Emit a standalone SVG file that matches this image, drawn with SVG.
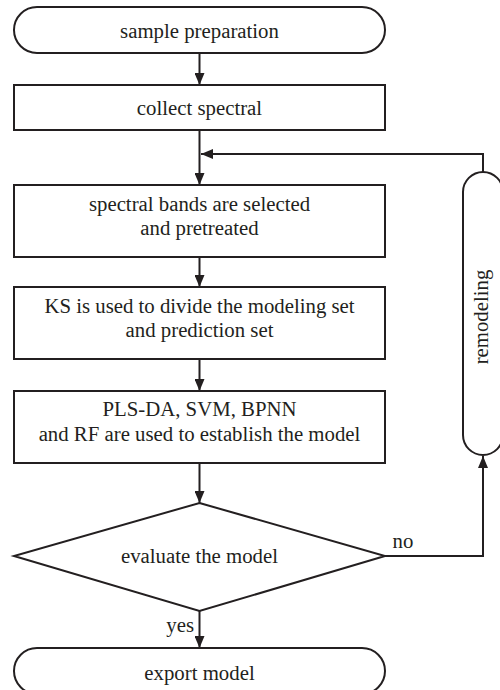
<svg xmlns="http://www.w3.org/2000/svg" width="500" height="690" viewBox="0 0 500 690" font-family="Liberation Serif, Times New Roman, serif" font-size="20.8">
<style>
.s{fill:#fff;stroke:#231f20;stroke-width:2}
.c{fill:none;stroke:#231f20;stroke-width:2}
text{fill:#231f20;text-anchor:middle}
</style>
<defs>
<marker id="ah" viewBox="0 0 12 10" refX="12" refY="5" markerWidth="12" markerHeight="10" markerUnits="userSpaceOnUse" orient="auto">
<path d="M0,0 L12,5 L0,10 Z" fill="#231f20"/>
</marker>
</defs>
<rect width="500" height="690" fill="#fff"/>
<g id="connectors">
<line class="c" x1="199.5" y1="53" x2="199.5" y2="85" marker-end="url(#ah)"/>
<line class="c" x1="199.5" y1="130" x2="199.5" y2="185" marker-end="url(#ah)"/>
<polyline class="c" points="483,172 483,154 201,154" marker-end="url(#ah)"/>
<line class="c" x1="199.5" y1="257" x2="199.5" y2="287" marker-end="url(#ah)"/>
<line class="c" x1="199.5" y1="359" x2="199.5" y2="391" marker-end="url(#ah)"/>
<line class="c" x1="199.5" y1="463" x2="199.5" y2="503" marker-end="url(#ah)"/>
<polyline class="c" points="385,556 483,556 483,456" marker-end="url(#ah)"/>
<line class="c" x1="199.5" y1="611" x2="199.5" y2="648" marker-end="url(#ah)"/>
<text x="403" y="548">no</text>
<text x="194" y="632" text-anchor="end" style="text-anchor:end">yes</text>
</g>
<g id="start">
<rect class="s" x="14" y="7" width="371" height="46" rx="23"/>
<text x="199.5" y="37.5">sample preparation</text>
</g>
<g id="collect">
<rect class="s" x="14" y="85" width="371" height="45"/>
<text x="199.5" y="115">collect spectral</text>
</g>
<g id="bands">
<rect class="s" x="14" y="185" width="371" height="72"/>
<text x="199.5" y="211">spectral bands are selected</text>
<text x="199.5" y="235">and pretreated</text>
</g>
<g id="ks">
<rect class="s" x="14" y="287" width="371" height="72"/>
<text x="199.5" y="313">KS is used to divide the modeling set</text>
<text x="199.5" y="337">and prediction set</text>
</g>
<g id="models">
<rect class="s" x="14" y="391" width="371" height="72"/>
<text x="199.5" y="416">PLS-DA, SVM, BPNN</text>
<text x="199.5" y="441">and RF are used to establish the model</text>
</g>
<g id="evaluate">
<polygon class="s" points="199.5,503 385,556 199.5,611 14,556"/>
<text x="199.5" y="563">evaluate the model</text>
</g>
<g id="remodeling">
<rect class="s" x="463" y="172" width="40" height="283" rx="20"/>
<text transform="translate(488,317) rotate(-90)">remodeling</text>
</g>
<g id="export">
<rect class="s" x="14" y="648" width="371" height="46" rx="23"/>
<text x="199.5" y="680">export model</text>
</g>
</svg>
